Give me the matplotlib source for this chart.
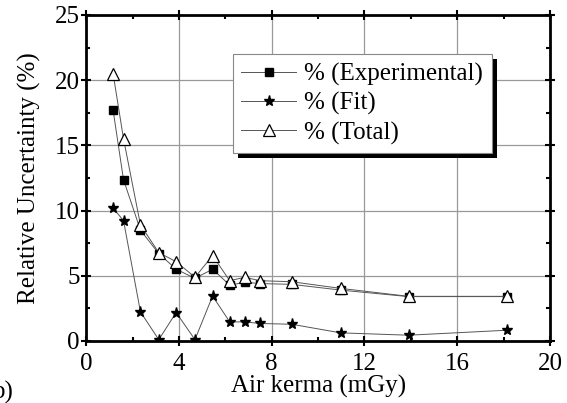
import numpy as np
import matplotlib.pyplot as plt
from matplotlib.patches import Rectangle

plt.rcParams['font.family'] = ['Liberation Serif', 'DejaVu Serif']
plt.rcParams['font.size'] = 18

# Air kerma values (mGy)
kerma = [1.16, 1.61, 2.34, 3.13, 3.88, 4.69, 5.45, 6.19, 6.84, 7.49, 8.86, 10.97, 13.9, 18.13]

# Relative uncertainties (%)
experimental = [17.7, 12.36, 8.5, 6.7, 5.5, 4.8, 5.5, 4.28, 4.5, 4.4, 4.34, 3.9, 3.4, 3.4]
fit = [10.18, 9.23, 2.23, 0.1, 2.18, 0.1, 3.44, 1.46, 1.46, 1.34, 1.28, 0.62, 0.44, 0.82]
total = [20.5, 15.5, 8.9, 6.77, 6.08, 4.88, 6.54, 4.62, 4.88, 4.62, 4.54, 4.03, 3.42, 3.42]

fig = plt.figure(figsize=(5.67, 4.03), dpi=100)
ax = fig.add_axes([0.152, 0.154, 0.818, 0.809])

line_kw = dict(color='#555555', lw=0.7)
ax.plot(kerma, experimental, marker='s', ms=6, mfc='black', mec='black',
        label='% (Experimental)', **line_kw)
ax.plot(kerma, fit, marker='*', ms=8, mfc='black', mec='black',
        label='% (Fit)', **line_kw)
ax.plot(kerma, total, marker='^', ms=9, mfc='white', mec='black', mew=0.9,
        label='% (Total)', **line_kw)

ax.set_xlim(0, 20)
ax.set_ylim(0, 25)
ax.set_xticks(np.arange(0, 21, 4))
ax.set_yticks(np.arange(0, 26, 5))
ax.set_xticks(np.arange(0, 21, 2), minor=True)
ax.set_yticks(np.arange(0, 26, 2.5), minor=True)
ax.grid(True, which='major', color='#999999', lw=0.9)
ax.set_axisbelow(True)

ax.tick_params(which='both', direction='in', top=True, right=True, width=1.5)
ax.tick_params(which='major', direction='inout', length=7)
ax.tick_params(axis='x', which='major', pad=5)
ax.tick_params(axis='y', which='major', pad=1)
ax.tick_params(which='minor', length=3)
for s in ax.spines.values():
    s.set_linewidth(2)

ax.set_xlabel('Air kerma (mGy)', labelpad=0)
ax.set_ylabel('Relative Uncertainty (%)', labelpad=10)

leg = ax.legend(loc='upper left', bbox_to_anchor=(0.316, 0.88), borderaxespad=0,
                fancybox=False, framealpha=1, edgecolor='#888888',
                handlelength=2.2, handletextpad=0.3, labelspacing=0.25,
                borderpad=0.35)
leg.get_frame().set_linewidth(0.8)
leg.set_zorder(6)

# black drop shadow behind the legend box
fig.canvas.draw()
bb = leg.get_window_extent().transformed(ax.transAxes.inverted())
dx = 5 / (ax.bbox.width)
dy = 5 / (ax.bbox.height)
ax.add_patch(Rectangle((bb.x0 + dx, bb.y0 - dy), bb.width, bb.height,
                       transform=ax.transAxes, facecolor='black',
                       edgecolor='none', zorder=5.5, clip_on=False))

fig.text(-0.014, 0.01, 'b)')

fig.savefig('out.png', dpi=100)
